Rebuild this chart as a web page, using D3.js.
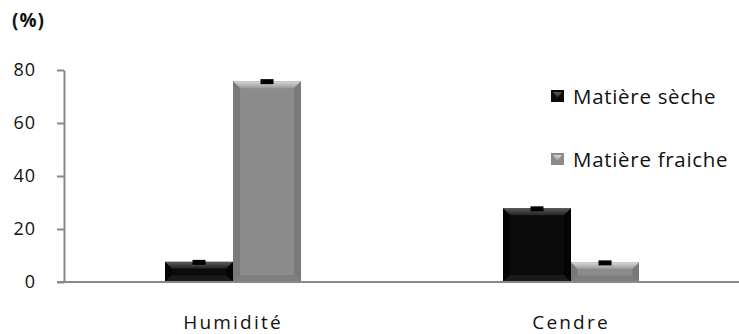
<!DOCTYPE html>
<html><head><meta charset="utf-8">
<script src="https://cdn.jsdelivr.net/npm/d3@7"></script>
<style>body{margin:0;background:#fff}svg{display:block}text{font-family:"Open Sans",sans-serif}</style>
</head><body><svg id="c" width="739" height="334"></svg>
<script>
const categories = ["Humidité", "Cendre"];
const series = ["Matière sèche", "Matière fraiche"];
const seche = [7.6, 27.8];
const fraiche = [75.8, 7.4];
const yTicks = [0, 20, 40, 60, 80];
const unitLabel = "(%)";

const svg = d3.select("#c");
const m = {l: 64, t: 70, b: 282};
const y = d3.scaleLinear().domain([0, 80]).range([m.b, m.t]);
const x = d3.scaleBand().domain(categories).range([m.l, 740]).paddingInner(0).paddingOuter(0);
const x1 = d3.scaleBand().domain(series).range([0, x.bandwidth()]).paddingInner(0).paddingOuter(1.485);

const defs = svg.append("defs");
const styles = {
  "Matière sèche": {base: "#0b0b0b", top: ["#5a5a5a", "#222"], side: "#000", bottom: "#1a1a1a"},
  "Matière fraiche": {base: "#8b8b8b", top: ["#d8d8d8", "#9a9a9a"], side: "#6e6e6e", bottom: "#7e7e7e"}
};
series.forEach((s, i) => {
  const g = defs.append("linearGradient").attr("id", "gt" + i).attr("x1", 0).attr("y1", 0).attr("x2", 0).attr("y2", 1);
  g.append("stop").attr("offset", "0%").attr("stop-color", styles[s].top[0]);
  g.append("stop").attr("offset", "100%").attr("stop-color", styles[s].top[1]);
});

const yAxis = d3.axisLeft(y).tickValues(yTicks).tickSize(7).tickPadding(21).tickSizeOuter(0);
const ga = svg.append("g").attr("transform", `translate(${m.l},0)`).call(yAxis);
ga.select(".domain").attr("stroke", "#888").attr("stroke-width", 2);
ga.selectAll(".tick line").attr("stroke", "#888").attr("stroke-width", 2);
ga.selectAll(".tick text").attr("font-size", 18).attr("fill", "#111").attr("font-family", '"Open Sans",sans-serif').attr("letter-spacing", 1);

const data = [];
categories.forEach((c, ci) => {
  data.push({c, s: series[0], si: 0, v: seche[ci]});
  data.push({c, s: series[1], si: 1, v: fraiche[ci]});
});

const bars = svg.append("g").selectAll("g").data(data).join("g");
bars.each(function(d) {
  const g = d3.select(this);
  const x0 = x(d.c) + x1(d.s), w = x1.bandwidth();
  const yt = y(d.v), yb = y(0), h = yb - yt;
  const st = styles[d.s];
  const b = Math.min(7, h / 3);
  g.append("rect").attr("x", x0).attr("y", yt).attr("width", w).attr("height", h).attr("fill", st.base);
  g.append("path").attr("d", `M${x0},${yt}L${x0 + w},${yt}L${x0 + w - b},${yt + b}L${x0 + b},${yt + b}Z`).attr("fill", `url(#gt${d.si})`);
  g.append("path").attr("d", `M${x0},${yt}L${x0 + b},${yt + b}L${x0 + b},${yb - b}L${x0},${yb}Z`).attr("fill", st.side).attr("opacity", 0.6);
  g.append("path").attr("d", `M${x0 + w},${yt}L${x0 + w - b},${yt + b}L${x0 + w - b},${yb - b}L${x0 + w},${yb}Z`).attr("fill", st.side).attr("opacity", 0.6);
  g.append("path").attr("d", `M${x0},${yb}L${x0 + b},${yb - b}L${x0 + w - b},${yb - b}L${x0 + w},${yb}Z`).attr("fill", st.bottom);
  g.append("rect").attr("x", x0 + w / 2 - 6.5).attr("y", yt - 2).attr("width", 13).attr("height", 5).attr("fill", "#000");
});

svg.append("line").attr("x1", 57).attr("x2", 740).attr("y1", y(0)).attr("y2", y(0)).attr("stroke", "#888").attr("stroke-width", 2);

svg.append("g").selectAll("text").data(categories).join("text")
  .attr("x", d => x(d) + x.bandwidth() / 2).attr("y", 329).attr("text-anchor", "middle")
  .attr("font-size", 19).attr("letter-spacing", 2.2).attr("fill", "#111").text(d => d);

svg.append("text").attr("x", 12).attr("y", 27).attr("font-size", 19).attr("letter-spacing", 1).attr("font-weight", "bold").attr("fill", "#111").text(unitLabel);

const leg = svg.append("g").selectAll("g").data(series).join("g")
  .attr("transform", (d, i) => `translate(551,${96 + i * 63})`);
leg.append("rect").attr("x", 0).attr("y", -6).attr("width", 13).attr("height", 12)
  .attr("fill", d => styles[d].base);
leg.append("path").attr("d", "M2,-4L11,-4L6.5,2Z").attr("fill", (d, i) => `url(#gt${i})`);
leg.append("text").attr("x", 22).attr("y", 7.5).attr("font-size", 20.5).attr("letter-spacing", 0.7).attr("fill", "#111").text(d => d);
</script></body></html>
